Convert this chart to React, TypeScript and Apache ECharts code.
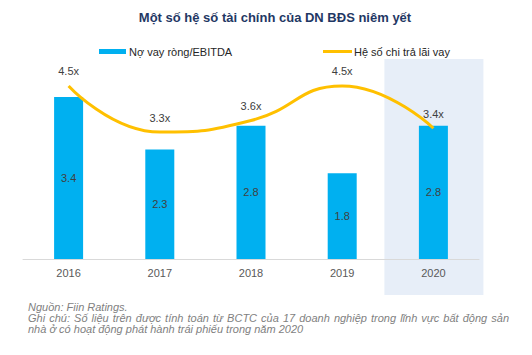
import React, { useEffect, useRef } from "react";
import * as echarts from "echarts";

const categories = ["2016", "2017", "2018", "2019", "2020"];
const netDebtEbitda = [3.4, 2.3, 2.8, 1.8, 2.8];
const interestCoverage = [4.5, 3.3, 3.6, 4.5, 3.4];
const barName = "Nợ vay ròng/EBITDA";
const lineName = "Hệ số chi trả lãi vay";
const titleText = "Một số hệ số tài chính của DN BĐS niêm yết";
const noteLines = [
  "Nguồn: Fiin Ratings.",
  "Ghi chú: Số liệu trên được tính toán từ BCTC của 17 doanh nghiệp trong lĩnh vực bất động sản",
  "nhà ở có hoạt động phát hành trái phiếu trong năm 2020",
];
const justifiedLine = [false, true, false];
const highlightCategory = "2020";

export default function App() {
  const ref = useRef<HTMLDivElement>(null);
  useEffect(() => {
    if (!ref.current) return;
    const chart = echarts.init(ref.current, undefined, { renderer: "svg" });
    const font = "Liberation Sans, Arial, sans-serif";
    const legendText = { fontSize: 11, color: "#262626", fontFamily: font };
    chart.setOption({
      animation: false,
      textStyle: { fontFamily: font },
      title: {
        text: titleText,
        left: 270,
        textAlign: "center",
        top: 6,
        textStyle: { fontSize: 13, fontWeight: "bold", color: "#1F3864", fontFamily: font },
      },
      legend: [
        {
          top: 41,
          left: 94,
          itemWidth: 27,
          itemHeight: 5,
          itemGap: 4,
          textStyle: { ...legendText, padding: [0, 0, 0, -2] },
          data: [{ name: barName, icon: "rect" }],
        },
        {
          top: 41,
          left: 318,
          itemWidth: 29,
          itemHeight: 3,
          textStyle: { ...legendText, padding: [0, 0, 0, -3] },
          data: [{ name: lineName, icon: "rect" }],
        },
      ],
      grid: { left: 23, right: 53, top: 59, height: 200 },
      xAxis: {
        type: "category",
        data: categories,
        axisTick: { show: false },
        axisLine: { lineStyle: { color: "#D9D9D9", width: 1 } },
        axisLabel: { fontSize: 11, color: "#595959", margin: 8, fontFamily: font },
      },
      yAxis: [
        { type: "value", min: 0, max: 4.2, show: false, splitLine: { show: false } },
        { type: "value", min: 0, max: 5.2, show: false, splitLine: { show: false } },
      ],
      series: [
        {
          name: barName,
          type: "bar",
          data: netDebtEbitda,
          barWidth: 29,
          yAxisIndex: 0,
          itemStyle: { color: "#00B0F0" },
          label: {
            show: true,
            position: "inside",
            fontSize: 11,
            color: "#404040",
            fontFamily: font,
            formatter: (p: any) => p.value.toFixed(1),
          },
          z: 2,
        },
        {
          name: lineName,
          type: "line",
          data: interestCoverage,
          yAxisIndex: 1,
          smooth: 0.5,
          symbol: "circle",
          symbolSize: 0.1,
          showSymbol: true,
          lineStyle: { color: "#FFC000", width: 3 },
          itemStyle: { color: "#FFC000" },
          label: {
            show: true,
            position: "top",
            distance: 9,
            fontSize: 11,
            color: "#404040",
            fontFamily: font,
            formatter: (p: any) => p.value.toFixed(1) + "x",
          },
          z: 3,
        },
      ],
    });
    const cx = chart.convertToPixel({ xAxisIndex: 0 }, highlightCategory) as number;
    const topY = chart.convertToPixel({ yAxisIndex: 0 }, 4.2) as number;

    // footnote layout (line 2 justified between left and right edges)
    const noteFontSize = 11;
    const noteLeft = 28;
    const noteRight = 509;
    const noteTop = 301.5;
    const noteStep = 11;
    const ctx = document.createElement("canvas").getContext("2d");
    if (ctx) ctx.font = `italic ${noteFontSize}px "Liberation Sans", Arial, sans-serif`;
    const measure = (s: string) => (ctx ? ctx.measureText(s).width : s.length * 5.2);
    const noteStyle = {
      fontSize: noteFontSize,
      fontStyle: "italic",
      fill: "#7F7F7F",
      fontFamily: font,
      lineHeight: 11,
      verticalAlign: "top",
      align: "left",
    };
    const noteEls: any[] = [];
    noteLines.forEach((t, i) => {
      const y = noteTop + i * noteStep;
      if (!justifiedLine[i]) {
        noteEls.push({ type: "text", x: noteLeft, y, style: { ...noteStyle, text: t } });
        return;
      }
      const words = t.split(" ");
      const wordsW = words.reduce((a, w) => a + measure(w), 0);
      const gap = (noteRight - noteLeft - wordsW) / (words.length - 1);
      let x = noteLeft;
      words.forEach((w) => {
        noteEls.push({ type: "text", x, y, style: { ...noteStyle, text: w } });
        x += measure(w) + gap;
      });
    });

    chart.setOption({
      graphic: [
        {
          type: "rect",
          z: -10,
          silent: true,
          shape: { x: cx - 49, y: topY, width: 99, height: 236 },
          style: { fill: "#E7EEF8" },
        },
        ...noteEls,
      ],
    });
    return () => chart.dispose();
  }, []);
  return (
    <div
      ref={ref}
      style={{ position: "fixed", left: 0, top: 0, width: 532, height: 355, background: "#fff" }}
    />
  );
}
